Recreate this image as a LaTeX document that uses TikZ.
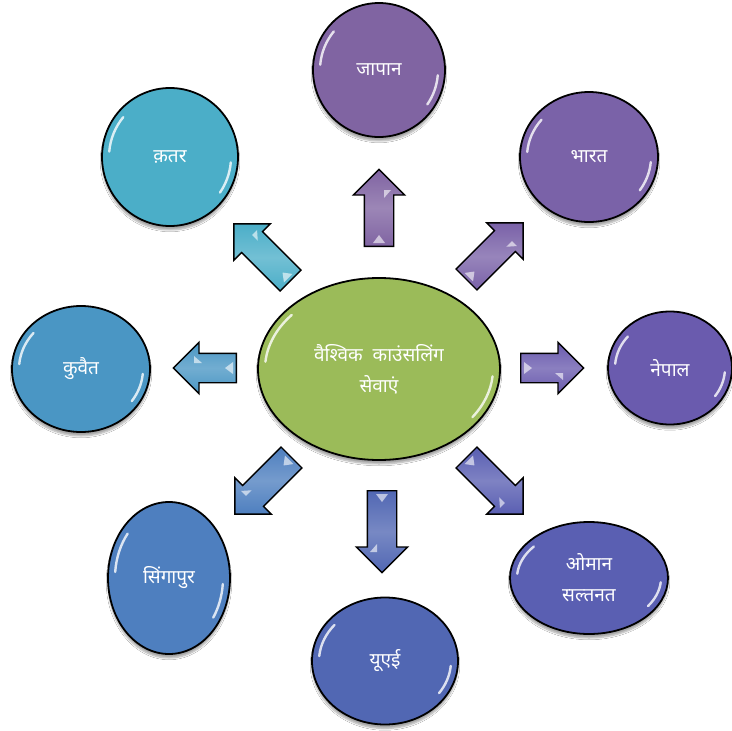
\documentclass[tikz,border=0pt]{standalone}
\usepackage{fontspec}
\newfontfamily\dev[Script=Devanagari]{Noto Sans}
\usetikzlibrary{shapes.geometric,shapes.arrows,shadows.blur,calc}
\definecolor{cC}{HTML}{9BBB59}
\definecolor{cJ}{HTML}{8064A2}
\definecolor{cB}{HTML}{7A62A8}
\definecolor{cN}{HTML}{6A5BAE}
\definecolor{cO}{HTML}{5A5FB2}
\definecolor{cU}{HTML}{5167B3}
\definecolor{cS}{HTML}{4E7FBF}
\definecolor{cK}{HTML}{4A96C4}
\definecolor{cQ}{HTML}{4BAEC8}
\tikzset{
  bub/.style={ellipse, draw=black, line width=1.8pt, inner sep=0pt, text=white,
    font=\dev\fontsize{19}{31}\selectfont, align=center,
    blur shadow={shadow xshift=0pt, shadow yshift=-4pt, shadow blur steps=6, shadow opacity=35}},
  barrow/.style={single arrow, draw=black, line width=1.4pt, inner xsep=0pt, inner ysep=14pt,
    single arrow head extend=11pt, minimum width=50pt, anchor=tail,
    top color=#1, bottom color=#1, middle color=#1!78!white},
  gloss/.style={white, opacity=0.8, line width=2.4pt, line cap=round},
  hl/.style={fill=white, opacity=0.6},
}
\newcommand{\glossy}[3]{%
  \draw[gloss] ($(#1.center)+(185:{#2-7} and {#3-7})$) arc[start angle=185, end angle=220, x radius={#2-7}, y radius={#3-7}];
  \draw[gloss] ($(#1.center)+(5:{#2-7} and {#3-7})$) arc[start angle=5, end angle=35, x radius={#2-7}, y radius={#3-7}];}
% highlights on a block arrow: #1 node, #2 angle, #3 length
\newcommand{\arrowhl}[3]{%
  \begin{scope}[shift={(#1.tail)}, x=1pt, y=1pt, rotate=#2]
    \fill[hl] (4,-6) -- (12,0) -- (4,6) -- cycle;
    \fill[hl] (#3-28,-5) -- (#3-20,-12) -- (#3-20,-5) -- cycle;
  \end{scope}}
\begin{document}
\begin{tikzpicture}[x=1pt, y=-1pt]
\useasboundingbox[fill=white] (0,0) rectangle (732,731);
% bubbles
\node[bub, fill=cC, minimum width=242pt, minimum height=182pt] (c) at (379,369) {वैश्विक\ \ काउंसलिंग\\सेवाएं};
\node[bub, fill=cJ, minimum width=132pt, minimum height=134pt] (j) at (379,70) {जापान};
\node[bub, fill=cB, minimum width=138pt, minimum height=130pt] (b) at (589,157) {भारत};
\node[bub, fill=cN, minimum width=124pt, minimum height=113pt] (n) at (670,368) {नेपाल};
\node[bub, fill=cO, minimum width=158pt, minimum height=112pt] (o) at (589,578) {ओमान\\सल्तनत};
\node[bub, fill=cU, minimum width=146pt, minimum height=127pt] (u) at (385,661) {यूएई};
\node[bub, fill=cS, minimum width=122pt, minimum height=152pt] (s) at (169,578) {सिंगापुर};
\node[bub, fill=cK, minimum width=138pt, minimum height=126pt] (k) at (81,369) {कुवैत};
\node[bub, fill=cQ, minimum width=136pt, minimum height=138pt] (q) at (170,157) {क़तर};
\glossy{c}{121}{91}
\glossy{j}{66}{67}
\glossy{b}{69}{65}
\glossy{n}{62}{56}
\glossy{o}{79}{56}
\glossy{u}{73}{63}
\glossy{s}{61}{76}
\glossy{k}{69}{63}
\glossy{q}{68}{69}
% block arrows
\node[barrow=cJ, minimum height=77pt, rotate=90] (a1) at (379,247) {};
\node[barrow=cB, minimum height=80pt, rotate=45] (a2) at (466,280) {};
\node[barrow=cN, minimum height=63pt, rotate=0] (a3) at (520,368) {};
\node[barrow=cO, minimum height=80pt, rotate=-45] (a4) at (466,457) {};
\node[barrow=cU, minimum height=82pt, rotate=-90] (a5) at (382,490) {};
\node[barrow=cS, minimum height=80pt, rotate=-135] (a6) at (292,457) {};
\node[barrow=cK, minimum height=63pt, rotate=180] (a7) at (237,368) {};
\node[barrow=cQ, minimum height=80pt, rotate=135] (a8) at (291,281) {};
\arrowhl{a1}{90}{77}
\arrowhl{a2}{45}{80}
\arrowhl{a3}{0}{63}
\arrowhl{a4}{-45}{80}
\arrowhl{a5}{-90}{82}
\arrowhl{a6}{-135}{80}
\arrowhl{a7}{180}{63}
\arrowhl{a8}{135}{80}
\end{tikzpicture}
\end{document}
